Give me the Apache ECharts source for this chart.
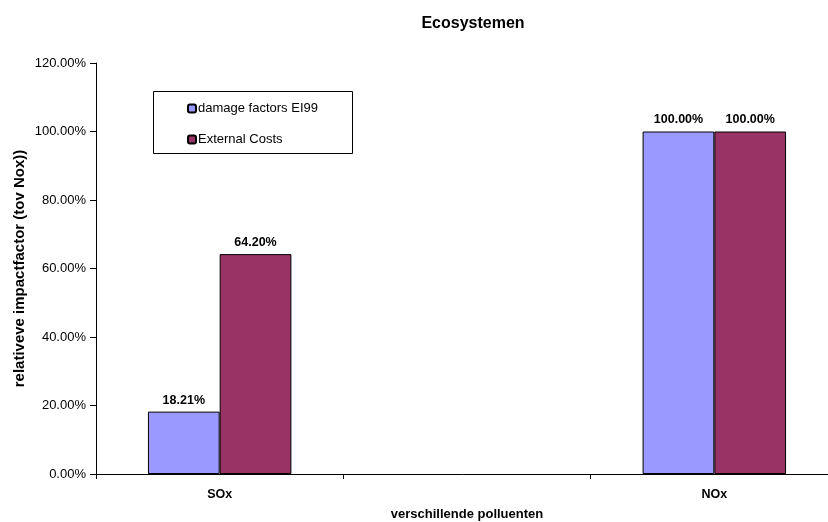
<!DOCTYPE html>
<html>
<head>
<meta charset="utf-8">
<script src="https://cdn.jsdelivr.net/npm/echarts@6/dist/echarts.min.js"></script>
<style>
html,body{margin:0;padding:0;background:#fff;}
#chart{width:828px;height:522px;}
</style>
</head>
<body>
<div id="chart"></div>
<script>
// Pollutant categories (middle slot intentionally empty)
const categories = ['SOx', '', 'NOx'];
// Relative impact factor, percent of NOx
const damageFactorsEI99 = [18.21, null, 100];
const externalCosts = [64.20, null, 100];
const seriesNames = ['damage factors EI99', 'External Costs'];

const chart = echarts.init(document.getElementById('chart'));
const font = 'Arial, "Liberation Sans", sans-serif';

const labelCfg = {
  show: true,
  position: 'top',
  distance: 5,
  fontFamily: font,
  fontSize: 12.5,
  fontWeight: 'bold',
  color: '#000',
  formatter: p => p.value.toFixed(2) + '%'
};

chart.setOption({
  backgroundColor: '#fff',
  animation: false,
  title: {
    text: 'Ecosystemen',
    left: 468,
    textAlign: 'center',
    top: 11,
    textStyle: { fontFamily: font, fontSize: 16, fontWeight: 'bold', color: '#000' }
  },
  graphic: [{
    type: 'rect',
    shape: { x: 153.5, y: 91.5, width: 199, height: 62 },
    style: { fill: '#fff', stroke: '#000', lineWidth: 1 },
    z: 5
  }],
  legend: {
    left: 182,
    top: 97,
    orient: 'vertical',
    itemWidth: 8,
    itemHeight: 8,
    itemGap: 18,
    z: 10,
    textStyle: { fontFamily: font, fontSize: 13, color: '#000', padding: [0, 0, 0, -3] },
    data: seriesNames
  },
  grid: { left: 96, top: 63, right: -10, bottom: 48, outerBoundsMode: 'none', containLabel: false },
  xAxis: {
    type: 'category',
    data: categories,
    name: 'verschillende polluenten',
    nameLocation: 'middle',
    nameGap: 34,
    nameMoveOverlap: false,
    nameTextStyle: { fontFamily: font, fontSize: 13, fontWeight: 'bold', color: '#000' },
    axisLine: { lineStyle: { color: '#000', width: 1 } },
    axisTick: { show: true, length: 5, interval: 0, lineStyle: { color: '#000' } },
    axisLabel: { fontFamily: font, fontSize: 12.5, fontWeight: 'bold', color: '#000', margin: 14, interval: 0 }
  },
  yAxis: {
    type: 'value',
    min: 0,
    max: 120,
    interval: 20,
    name: 'relativeve impactfactor (tov Nox))',
    nameLocation: 'middle',
    nameGap: 69,
    nameMoveOverlap: false,
    nameTextStyle: { fontFamily: font, fontSize: 15, fontWeight: 'bold', color: '#000' },
    splitLine: { show: false },
    axisLine: { show: true, lineStyle: { color: '#000', width: 1 } },
    axisTick: { show: true, length: 6, lineStyle: { color: '#000' } },
    axisLabel: { fontFamily: font, fontSize: 13, color: '#000', margin: 10, formatter: v => v.toFixed(2) + '%' }
  },
  series: [
    {
      name: seriesNames[0],
      type: 'bar',
      data: damageFactorsEI99,
      barGap: '0%',
      barCategoryGap: '42%',
      itemStyle: { color: '#9999FF', borderColor: '#000', borderWidth: 1 },
      label: labelCfg
    },
    {
      name: seriesNames[1],
      type: 'bar',
      data: externalCosts,
      itemStyle: { color: '#993366', borderColor: '#000', borderWidth: 1 },
      label: labelCfg
    }
  ]
});
</script>
</body>
</html>
